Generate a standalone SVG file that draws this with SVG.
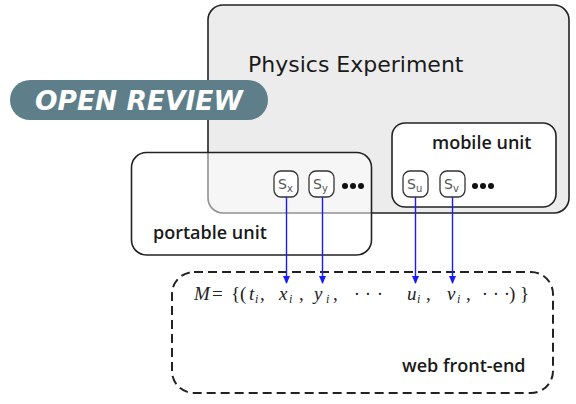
<svg xmlns="http://www.w3.org/2000/svg" width="576" height="404" viewBox="0 0 576 404">
<defs>
<marker id="ah" markerWidth="8" markerHeight="10" refX="7" refY="3.5" orient="auto" markerUnits="userSpaceOnUse">
<path d="M0,0 L8,3.5 L0,7 Z" fill="#1a1aff"/>
</marker>
<style>
.box{stroke:#222;stroke-width:1.6;}
.lbl{font-family:"Open Sans","DejaVu Sans",sans-serif;font-size:18px;font-weight:600;fill:#1a1a1a;}
.sen{fill:#fff;stroke:#333;stroke-width:1.3;}
.st{font-family:"DejaVu Sans",sans-serif;font-size:14px;fill:#555;}
.sub{font-size:10px;}
.dot{fill:#111;}
.conn{stroke:#1a1aff;stroke-width:1.4;fill:none;}
.math{font-family:"Liberation Serif","Times New Roman",serif;font-size:19px;fill:#222;}
.it{font-style:italic;}
.mi{font-style:italic;font-size:12px;}
.cd{text-anchor:middle;}
</style>
</defs>
<g id="physics-experiment">
<rect class="box" x="208" y="5" width="361" height="208" rx="15" fill="#ececec"/>
<text x="248" y="72" font-family="DejaVu Sans,sans-serif" font-size="22" fill="#1a1a1a">Physics Experiment</text>
</g>
<g id="portable-unit">
<rect class="box" x="131.5" y="152.5" width="240" height="102.5" rx="15" fill="#fff" fill-opacity="0.5"/>
<text class="lbl" x="153" y="239">portable unit</text>
</g>
<g id="mobile-unit">
<rect class="box" x="392" y="123" width="164" height="84" rx="13" fill="#fff"/>
<text class="lbl" x="432" y="149">mobile unit</text>
</g>
<g id="sensor-x">
<rect class="sen" x="274" y="171" width="24" height="26" rx="7"/>
<text class="st" x="278" y="189">S<tspan class="sub" dy="3">x</tspan></text>
</g>
<g id="sensor-y">
<rect class="sen" x="309" y="171" width="25" height="26" rx="7"/>
<text class="st" x="313" y="189">S<tspan class="sub" dy="3">y</tspan></text>
</g>
<g id="dots-portable">
<circle class="dot" cx="345" cy="186" r="3"/>
<circle class="dot" cx="353" cy="186" r="3"/>
<circle class="dot" cx="361" cy="186" r="3"/>
</g>
<g id="sensor-u">
<rect class="sen" x="403" y="171" width="25" height="26" rx="7"/>
<text class="st" x="407" y="189">S<tspan class="sub" dy="3">u</tspan></text>
</g>
<g id="sensor-v">
<rect class="sen" x="440" y="171" width="25" height="26" rx="7"/>
<text class="st" x="444" y="189">S<tspan class="sub" dy="3">v</tspan></text>
</g>
<g id="dots-mobile">
<circle class="dot" cx="475" cy="186" r="3"/>
<circle class="dot" cx="483" cy="186" r="3"/>
<circle class="dot" cx="491" cy="186" r="3"/>
</g>
<g id="web-front-end">
<rect x="172" y="272" width="381" height="121" rx="22" fill="none" stroke="#222" stroke-width="2" stroke-dasharray="9,5"/>
<text class="lbl" x="402" y="372">web front-end</text>
<g class="math">
<text class="it" x="194" y="300">M</text>
<text x="212" y="300">=</text>
<text x="231" y="300">{</text>
<text x="240" y="300">(</text>
<text class="it" x="249" y="300">t</text>
<text class="mi" x="255" y="303">i</text>
<text x="260" y="300">,</text>
<text class="it" x="279" y="300">x</text>
<text class="mi" x="289" y="303">i</text>
<text x="299" y="300">,</text>
<text class="it" x="314" y="300">y</text>
<text class="mi" x="326" y="303">i</text>
<text x="333" y="300">,</text>
<text class="cd" x="357" y="300">·</text>
<text class="cd" x="368" y="300">·</text>
<text class="cd" x="380" y="300">·</text>
<text class="it" x="407" y="300">u</text>
<text class="mi" x="417" y="303">i</text>
<text x="426" y="300">,</text>
<text class="it" x="447" y="300">v</text>
<text class="mi" x="457" y="303">i</text>
<text x="466" y="300">,</text>
<text class="cd" x="485" y="300">·</text>
<text class="cd" x="496" y="300">·</text>
<text class="cd" x="507" y="300">·</text>
<text x="509" y="300">)</text>
<text x="520" y="300">}</text>
</g>
</g>
<g id="connectors">
<line class="conn" x1="286.5" y1="197" x2="286.5" y2="283" marker-end="url(#ah)"/>
<line class="conn" x1="322.5" y1="197" x2="322.5" y2="283" marker-end="url(#ah)"/>
<line class="conn" x1="415.5" y1="197" x2="415.5" y2="283" marker-end="url(#ah)"/>
<line class="conn" x1="452.5" y1="197" x2="452.5" y2="283" marker-end="url(#ah)"/>
</g>
<g id="open-review">
<rect x="10" y="80" width="258" height="40" rx="20" fill="#5e7f8a"/>
<text x="35" y="110" font-family="DejaVu Sans,sans-serif" font-size="26.5" font-weight="bold" font-style="italic" fill="#fff">OPEN REVIEW</text>
</g>
</svg>
